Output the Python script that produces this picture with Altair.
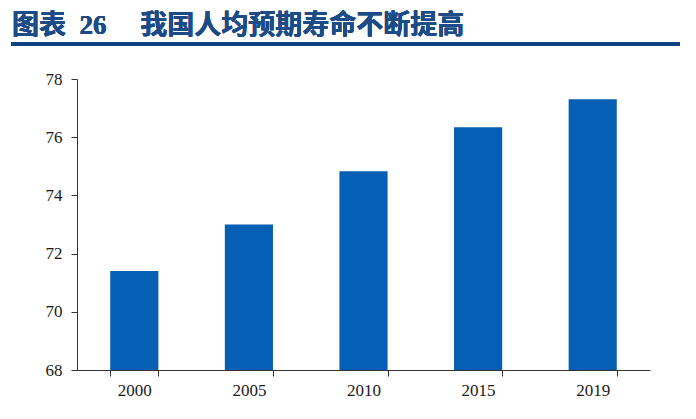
import pandas as pd
import altair as alt

# Life expectancy data
years = ["2000", "2005", "2010", "2015", "2019"]
life_exp = [71.4, 73.0, 74.83, 76.34, 77.3]
title_text = "图表\u00a0 26\u3000 我国人均预期寿命不断提高"

df = pd.DataFrame({"year": years, "value": life_exp})

base = alt.Chart(df)

bars = base.mark_bar(color="#055FB5", clip=True).encode(
    x=alt.X(
        "year:N",
        title=None,
        sort=years,
        scale=alt.Scale(paddingInner=0.58, paddingOuter=0.29),
        axis=alt.Axis(
            labelAngle=0,
            tickBand="extent",
            tickSize=6,
            labelPadding=6,
            labelFont="Liberation Serif",
            labelFontSize=17,
            labelColor="#1a1a1a",
            domainColor="#333333",
            tickColor="#333333",
        ),
    ),
    y=alt.Y(
        "value:Q",
        title=None,
        scale=alt.Scale(domain=[68, 78], nice=False, zero=False),
        axis=alt.Axis(
            values=[68, 70, 72, 74, 76, 78],
            grid=False,
            tickSize=6,
            labelPadding=9,
            labelFont="Liberation Serif",
            labelFontSize=17,
            labelColor="#1a1a1a",
            domainColor="#333333",
            tickColor="#333333",
        ),
    ),
)

# heading and underline above the plot
heading = base.mark_text(
    text=title_text,
    align="left",
    baseline="alphabetic",
    font="Liberation Serif, Noto Sans CJK SC",
    fontSize=27,
    fontWeight="bold",
    color="#1B4C87",
).encode(x=alt.value(-65), y=alt.value(-45))

underline = base.mark_rule(color="#0E3F7E", strokeWidth=3).encode(
    x=alt.value(-66), x2=alt.value(613), y=alt.value(-35)
)

chart = (
    alt.layer(bars, underline, heading)
    .properties(
        width=573,
        height=291,
        autosize=alt.AutoSizeParams(type="none"),
        padding={"left": 69, "top": 71, "right": 30, "bottom": 40},
    )
    .configure_view(stroke=None)
)

chart.save("out.html", embed_options={"renderer": "svg", "actions": False})
